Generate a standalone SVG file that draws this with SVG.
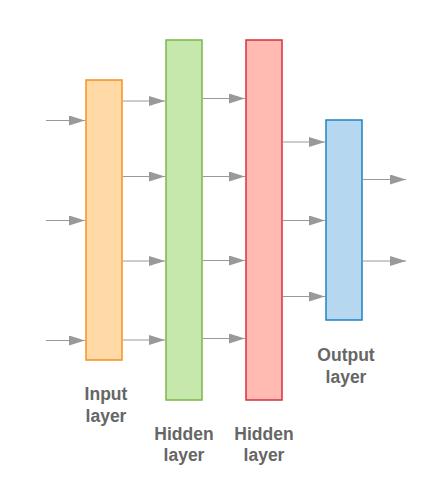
<svg xmlns="http://www.w3.org/2000/svg" width="446" height="480" viewBox="0 0 446 480">
<style>
.lbl{font-family:"Liberation Sans",Arial,sans-serif;font-weight:bold;font-size:17.5px;fill:#666;text-anchor:middle}
.c{stroke:#999;stroke-width:1;fill:none;marker-end:url(#ah)}
</style>
<defs>
<marker id="ah" markerUnits="userSpaceOnUse" markerWidth="16" markerHeight="10" refX="16" refY="5" orient="auto">
<path d="M0,0 L16,5 L0,10 Z" fill="#999"/>
</marker>
</defs>
<rect width="446" height="480" fill="#fff"/>
<g id="input-layer">
<rect x="86" y="80" width="36" height="280" fill="#ffd9a6" stroke="#f5911e" stroke-width="1.5"/>
<text class="lbl" x="106" y="400">Input</text>
<text class="lbl" x="106" y="422">layer</text>
</g>
<g id="hidden-layer-1">
<rect x="166" y="40" width="36" height="360" fill="#c7e8ac" stroke="#7ab648" stroke-width="1.5"/>
<text class="lbl" x="184" y="440">Hidden</text>
<text class="lbl" x="184" y="461">layer</text>
</g>
<g id="hidden-layer-2">
<rect x="246" y="40" width="36" height="360" fill="#ffbbb1" stroke="#d6303f" stroke-width="1.5"/>
<text class="lbl" x="264" y="440">Hidden</text>
<text class="lbl" x="264" y="461">layer</text>
</g>
<g id="output-layer">
<rect x="326" y="120" width="36" height="200" fill="#b5d8f0" stroke="#1c82c4" stroke-width="1.5"/>
<text class="lbl" x="346" y="361">Output</text>
<text class="lbl" x="346" y="383">layer</text>
</g>
<g id="connectors">
<line class="c" x1="46" y1="120.5" x2="85" y2="120.5"/>
<line class="c" x1="46" y1="220.5" x2="85" y2="220.5"/>
<line class="c" x1="46" y1="340.5" x2="85" y2="340.5"/>
<line class="c" x1="123" y1="101" x2="165" y2="101"/>
<line class="c" x1="123" y1="176.5" x2="165" y2="176.5"/>
<line class="c" x1="123" y1="261" x2="165" y2="261"/>
<line class="c" x1="123" y1="340" x2="165" y2="340"/>
<line class="c" x1="203" y1="98.5" x2="245" y2="98.5"/>
<line class="c" x1="203" y1="176.5" x2="245" y2="176.5"/>
<line class="c" x1="203" y1="260.5" x2="245" y2="260.5"/>
<line class="c" x1="203" y1="338.5" x2="245" y2="338.5"/>
<line class="c" x1="283" y1="142" x2="325" y2="142"/>
<line class="c" x1="283" y1="220.5" x2="325" y2="220.5"/>
<line class="c" x1="283" y1="296.5" x2="325" y2="296.5"/>
<line class="c" x1="363" y1="179.5" x2="406" y2="179.5"/>
<line class="c" x1="363" y1="261" x2="406" y2="261"/>
</g>
</svg>
